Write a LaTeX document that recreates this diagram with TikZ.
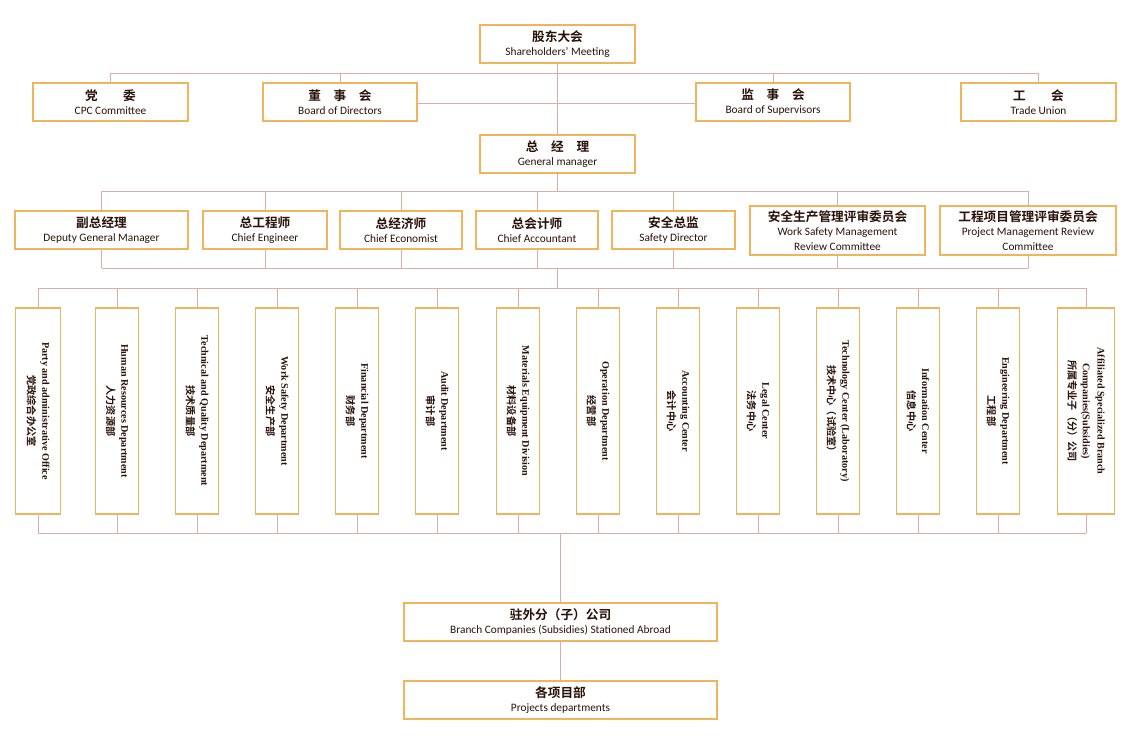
\documentclass[tikz,border=0pt]{standalone}
\usepackage{fontspec}
\setmainfont{Carlito}
\newfontfamily\zhf{Noto Sans CJK SC}[BoldFont={Noto Sans CJK SC Bold}]
\newfontfamily\vserif{Liberation Serif}
\newcommand{\zh}[1]{{\zhf\bfseries #1}}
\definecolor{boxc}{HTML}{F2B45A}
\definecolor{linec}{HTML}{D9AFA5}
\definecolor{txtc}{HTML}{2A1208}
\begin{document}
\begin{tikzpicture}[x=0.75pt,y=-0.75pt,
  hbox/.style={draw=boxc,line width=0.8pt,fill=white,text=txtc,align=center,font=\fontsize{8.5}{11}\selectfont,inner sep=1pt},
  vbox/.style={draw=boxc,line width=0.8pt,fill=white,text=txtc,align=center,rotate=-90,minimum width=154.5pt,font=\vserif\bfseries\fontsize{7.6}{11}\selectfont,inner sep=1pt},
  conn/.style={draw=linec,line width=0.7pt}]
\useasboundingbox (0,0) rectangle (1130,735);
\newcommand{\hb}[7]{\node[hbox,minimum width={(#3-#2)*0.75pt},minimum height={(#5-#4)*0.75pt}] (#1) at ({(#2+#3)/2},{(#4+#5)/2}) {\zh{\fontsize{9.5}{12}\selectfont #6}\\#7};}
% top
\hb{sh}{480}{635}{25}{63}{股东大会}{Shareholders’ Meeting}
\hb{cpc}{33}{188}{83}{121}{党\qquad 委}{CPC Committee}
\hb{bod}{263}{417}{83}{121}{董\quad 事\quad 会}{Board of Directors}
\hb{bos}{696}{850}{83}{121}{监\quad 事\quad 会}{Board of Supervisors}
\hb{tu}{961}{1116}{83}{121}{工\qquad 会}{Trade Union}
\hb{gm}{480}{635}{135}{173}{总\quad 经\quad 理}{General manager}
\hb{dgm}{15}{188}{211}{249}{副总经理}{Deputy General Manager}
\hb{ce}{203}{327}{211}{249}{总工程师}{Chief Engineer}
\hb{cec}{340}{462}{211}{249}{总经济师}{Chief Economist}
\hb{ca}{476}{598}{211}{249}{总会计师}{Chief Accountant}
\hb{sd}{612}{735}{211}{249}{安全总监}{Safety Director}
\hb{ws}{750}{925}{206}{255}{安全生产管理评审委员会}{Work Safety Management\\Review Committee}
\hb{pm}{940}{1116}{206}{255}{工程项目管理评审委员会}{Project Management Review\\Committee}
\hb{br}{404}{717}{603}{641}{驻外分（子）公司}{Branch Companies (Subsidies) Stationed Abroad}
\hb{pd}{404}{717}{681}{719}{各项目部}{Projects departments}
% vertical boxes
\newcommand{\vb}[4]{\node[vbox,minimum height={#3*0.75pt}] (#1) at (#2,411) {#4};}
\vb{v1}{38}{45}{Party and administrative Office\\\zh{党政综合办公室}}
\vb{v2}{117}{43}{Human Resources Department\\\zh{人力资源部}}
\vb{v3}{197}{43}{Technical and Quality Department\\\zh{技术质量部}}
\vb{v4}{277}{43}{Work Safety Department\\\zh{安全生产部}}
\vb{v5}{357}{43}{Financial Department\\\zh{财务部}}
\vb{v6}{437}{43}{Audit Department\\\zh{审计部}}
\vb{v7}{518}{43}{Materials Equipment Division\\\zh{材料设备部}}
\vb{v8}{598}{43}{Operation Department\\\zh{经营部}}
\vb{v9}{678}{43}{Accounting Center\\\zh{会计中心}}
\vb{v10}{758}{43}{Legal Center\\\zh{法务中心}}
\vb{v11}{838}{43}{Technology Center (Laboratory)\\\zh{技术中心（试验室）}}
\vb{v12}{918}{43}{Information Center\\\zh{信息中心}}
\vb{v13}{998}{43}{Engineering Department\\\zh{工程部}}
\vb{v14}{1086}{57}{Affiliated Specialized Branch\\Companies(Subsidies)\\\zh{所属专业子（分）公司}}
% bus coordinates
\coordinate (b1) at (0,73);
\coordinate (b2) at (0,103);
\coordinate (b3) at (0,191);
\coordinate (b4) at (0,268);
\coordinate (b5) at (0,288);
\coordinate (b6) at (0,533);
\begin{scope}[on background layer/.try]
\end{scope}
% connectors
\draw[conn] (sh.south) -- (gm.north);
\draw[conn] (cpc.north|-b1) -- (tu.north|-b1);
\foreach \n in {cpc,bod,bos,tu} \draw[conn] (\n.north) -- (\n.north|-b1);
\draw[conn] (bod.east|-b2) -- (bos.west|-b2);
\draw[conn] (dgm.north|-b3) -- (pm.north|-b3);
\draw[conn] (gm.south) -- (gm.south|-b3);
\foreach \n in {dgm,ce,cec,ca,sd,ws,pm} {\draw[conn] (\n.north) -- (\n.north|-b3); \draw[conn] (\n.south) -- (\n.south|-b4);}
\draw[conn] (dgm.south|-b4) -- (pm.south|-b4);
\draw[conn] (gm.south|-b4) -- (gm.south|-b5);
\draw[conn] (v1.west|-b5) -- (v14.west|-b5);
\draw[conn] (v1.east|-b6) -- (v14.east|-b6);
\foreach \n in {v1,v2,v3,v4,v5,v6,v7,v8,v9,v10,v11,v12,v13,v14} {\draw[conn] (\n.west) -- (\n.west|-b5); \draw[conn] (\n.east) -- (\n.east|-b6);}
\draw[conn] (br.north|-b6) -- (br.north);
\draw[conn] (br.south) -- (pd.north);
\end{tikzpicture}
\end{document}
